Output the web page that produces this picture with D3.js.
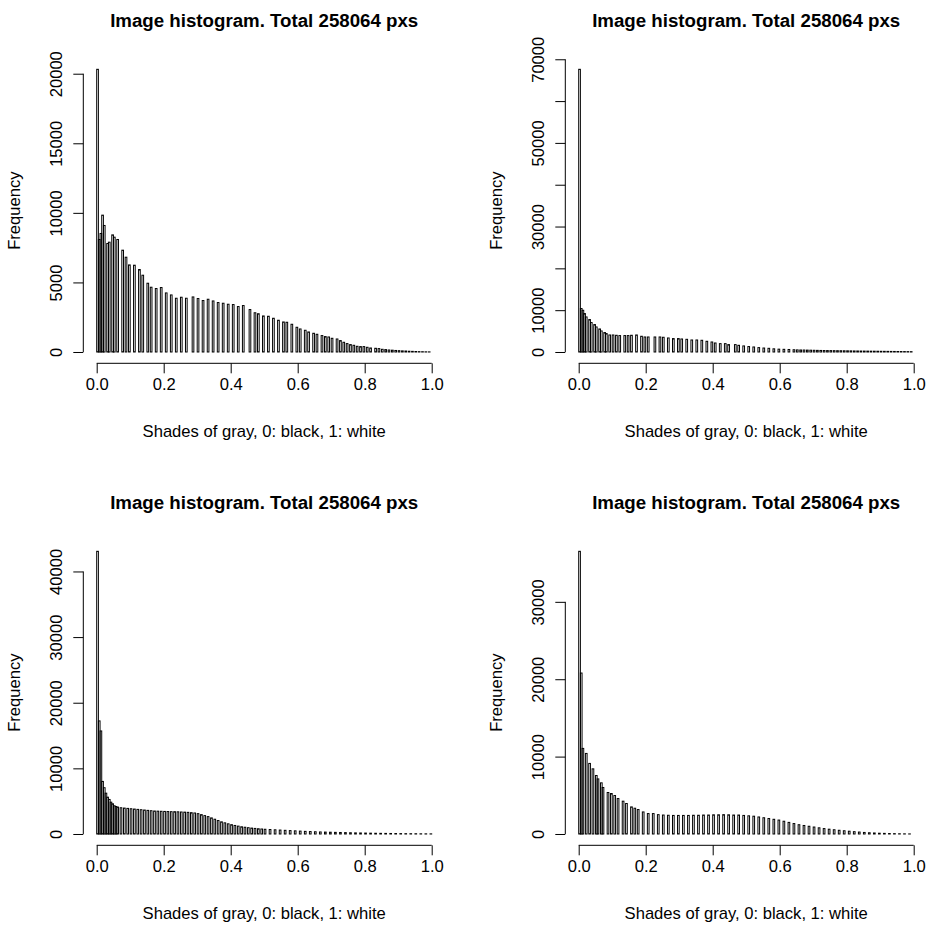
<!DOCTYPE html>
<html lang="en">
<head>
<meta charset="UTF-8"/>
<title>Image histograms</title>
<script src="https://d3js.org/d3.v7.min.js"></script>
<style>
  body { margin: 0; background: #fff; }
  svg text { font-family: "Liberation Sans", Arial, Helvetica, sans-serif; fill: #000; }
</style>
</head>
<body>
<script>
var w = 928;
var h = 927;
var binWidth = 0.005;
var title = "Image histogram. Total 258064 pxs";
var xLabel = "Shades of gray, 0: black, 1: white";
var yLabel = "Frequency";
var xTicks = [0, 0.2, 0.4, 0.6, 0.8, 1.0];

// top left
var bins1 = [0,1,2,3,4,6,7,9,10,12,15,17,19,22,25,27,30,32,35,38,41,44,47,50,53,57,60,63,66,69,
    72,75,78,81,84,87,91,94,96,99,102,105,108,111,113,116,119,121,124,126,129,131,134,136,138,140,
    143,145,147,149,151,153,155,157,159,161,163,166,168,170,172,174,176,178,180,182,184,186,188,190,
    192,194,196,198];
var counts1 = [20317,8086,8518,9835,9093,7799,7892,8417,8252,8086,7317,6813,6259,6237,5928,5518,4942,4655,4561,4633,
    4245,4101,3863,3935,3863,3957,3842,3698,3791,3669,3554,3504,3432,3410,3266,3338,3050,2820,2750,2590,
    2568,2424,2281,2158,2137,1993,1777,1655,1561,1439,1345,1273,1180,1108,1079,985,935,820,698,604,
    532,482,410,388,388,338,288,266,245,194,173,144,130,110,95,80,70,55,45,35,25,20,12,8];
var yTicks1 = [0,5000,10000,15000,20000];
var yLabels1 = [0,5000,10000,15000,20000];

// top right
var bins2 = [0,1,2,3,4,6,7,9,10,12,13,15,16,18,20,22,24,27,29,31,34,37,39,41,45,48,50,53,56,59,
    61,64,67,70,73,76,79,81,84,87,89,93,95,98,101,104,107,110,113,116,119,122,125,128,
    130,132,134,136,138,140,142,144,146,148,150,152,154,156,158,160,162,164,166,168,170,
    172,174,176,178,180,182,184,186,188,190,192,194,196,198];
var counts2 = [67600,10390,9983,9190,8380,7757,7038,6560,5985,5506,5028,4644,4405,4070,4070,3998,3926,3926,3926,3998,
    4070,3759,3591,3591,3591,3591,3520,3352,3208,3208,3112,3033,2873,2873,2800,2560,2394,2155,2000,2000,
    1770,1770,1600,1450,1300,1200,1050,950,880,760,680,640,600,540,
    500,480,470,450,430,410,390,370,350,340,330,320,310,300,290,280,270,250,240,230,
    220,210,200,190,180,170,160,150,140,130,120,110,100,90,80];
var yTicks2 = [0,10000,20000,30000,40000,50000,60000,70000];
var yLabels2 = [0,10000,30000,50000,70000];

// bottom left
var bins3 = [0,1,2,3,4,5,6,7,8,9,10,11,12,14,16,18,20,22,24,26,28,30,32,34,36,38,40,42,44,46,
    48,50,52,54,56,58,60,62,64,66,68,70,72,74,76,78,80,82,84,86,88,90,92,94,96,98,100,
    103,106,109,112,115,118,121,124,127,130,133,136,139,142,145,148,151,154,157,160,163,166,169,
    172,175,178,181,184,187,190,193,196,199];
var counts3 = [43070,17230,15700,8010,7050,6220,5610,5260,4850,4600,4300,4190,4100,
    4000,3950,3900,3850,3800,3750,3700,3650,3600,3550,3500,3480,3460,3440,3420,3400,3400,3380,3350,3330,3300,
    3250,3200,3100,2950,2800,2650,2450,2250,2050,1850,1700,1550,1420,1300,1200,1100,1030,960,900,850,800,760,720,
    680,640,600,560,520,480,440,400,370,340,310,290,270,250,230,210,190,170,155,140,
    125,110,100,90,80,70,60,50,45,40,30,25,20];
var yTicks3 = [0,10000,20000,30000,40000];
var yLabels3 = [0,10000,20000,30000,40000];

// bottom right
var bins4 = [0,1,2,4,6,8,10,11,13,14,17,19,21,23,26,28,31,33,35,38,41,44,47,
    50,53,56,59,62,65,68,71,74,77,80,83,86,89,92,95,98,101,104,107,110,113,116,119,122,125,128,
    131,134,137,140,143,146,149,152,155,158,161,164,167,170,173,176,179,182,185,188,191,194,197];
var counts4 = [36530,20800,11060,10410,9120,8420,7560,7120,6610,6010,
    5360,5230,4970,4580,4240,3940,3500,3330,3160,2850,2640,2640,2500,
    2450,2420,2400,2400,2400,2400,2420,2420,2450,2450,2480,2480,2500,2480,2450,2450,2400,2350,2300,2200,
    2100,2000,1900,1800,1650,1500,1350,1200,1100,1000,900,800,700,620,550,480,420,360,300,250,
    200,160,130,100,80,60,45,30,20,10];
var yTicks4 = [0,10000,20000,30000];
var yLabels4 = [0,10000,20000,30000];

var panels = [
    {bins: bins1, counts: counts1, ticks: yTicks1, labels: yLabels1, dx: 0,   dy: 0},
    {bins: bins2, counts: counts2, ticks: yTicks2, labels: yLabels2, dx: 482, dy: 0},
    {bins: bins3, counts: counts3, ticks: yTicks3, labels: yLabels3, dx: 0,   dy: 482},
    {bins: bins4, counts: counts4, ticks: yTicks4, labels: yLabels4, dx: 482, dy: 482}
];

// plot region inside each panel (window.top is taken, hence the prefix)
var plotLeft = 83.3, plotRight = 445.1, plotTop = 58, plotBottom = 363.3;
var fontSize = "16.6px";

var svg = d3.select("body")
    .append("svg")
    .attr("width", w)
    .attr("height", h);

svg.append("rect").attr("width", w).attr("height", h).attr("fill", "#fff");

panels.forEach(function(p) {
    if (p.bins.length != p.counts.length) console.log("length mismatch", p.bins.length, p.counts.length);

    var g = svg.append("g").attr("transform", "translate(" + p.dx + "," + p.dy + ")");
    var maxC = d3.max(p.counts);

    // R extends the axis range by 4% on each side
    var xScale = d3.scaleLinear().domain([-0.04, 1.04]).range([plotLeft, plotRight]);
    var yScale = d3.scaleLinear().domain([-0.04 * maxC, 1.04 * maxC]).range([plotBottom, plotTop]);

    var data = p.bins.map(function(b, i) { return {b: b, c: p.counts[i]}; });

    g.selectAll("rect.bar")
        .data(data)
        .enter()
        .append("rect")
        .attr("class", "bar")
        .attr("x", function(d) { return xScale(d.b * binWidth); })
        .attr("width", function(d) { return xScale((d.b + 1) * binWidth) - xScale(d.b * binWidth); })
        .attr("y", function(d) { return yScale(d.c); })
        .attr("height", function(d) { return yScale(0) - yScale(d.c); })
        .attr("fill", "none")
        .attr("stroke", "#000")
        .attr("stroke-width", 1);

    /* X axis */
    var xAxis = d3.axisBottom(xScale)
        .tickValues(xTicks)
        .tickSize(10)
        .tickPadding(5)
        .tickFormat(d3.format(".1f"));
    var gx = g.append("g")
        .attr("transform", "translate(0," + plotBottom + ")")
        .call(xAxis);
    gx.select(".domain").remove();
    gx.append("line")
        .attr("x1", xScale(0)).attr("x2", xScale(1))
        .attr("stroke", "#000");
    gx.selectAll("text").attr("font-size", fontSize).attr("font-family", null).attr("fill", "#000");

    /* Y axis */
    var yAxis = d3.axisLeft(yScale)
        .tickValues(p.ticks)
        .tickSize(10)
        .tickFormat(function(d) { return p.labels.indexOf(d) >= 0 ? String(d) : ""; });
    var gy = g.append("g")
        .attr("transform", "translate(" + plotLeft + ",0)")
        .call(yAxis);
    gy.select(".domain").remove();
    gy.append("line")
        .attr("y1", yScale(0)).attr("y2", yScale(d3.max(p.ticks)))
        .attr("stroke", "#000");
    gy.selectAll(".tick text")
        .attr("x", null).attr("dy", null)
        .attr("transform", "translate(-21,0) rotate(-90)")
        .attr("text-anchor", "middle")
        .attr("font-size", fontSize)
        .attr("font-family", null)
        .attr("fill", "#000");

    /* titles */
    g.append("text")
        .attr("x", (plotLeft + plotRight) / 2)
        .attr("y", 27)
        .attr("text-anchor", "middle")
        .attr("font-size", "18.7px")
        .attr("font-weight", "bold")
        .text(title);

    g.append("text")
        .attr("x", (plotLeft + plotRight) / 2)
        .attr("y", 437)
        .attr("text-anchor", "middle")
        .attr("font-size", fontSize)
        .text(xLabel);

    g.append("text")
        .attr("transform", "translate(20," + ((plotTop + plotBottom) / 2) + ") rotate(-90)")
        .attr("text-anchor", "middle")
        .attr("font-size", fontSize)
        .text(yLabel);
});
</script>
</body>
</html>
